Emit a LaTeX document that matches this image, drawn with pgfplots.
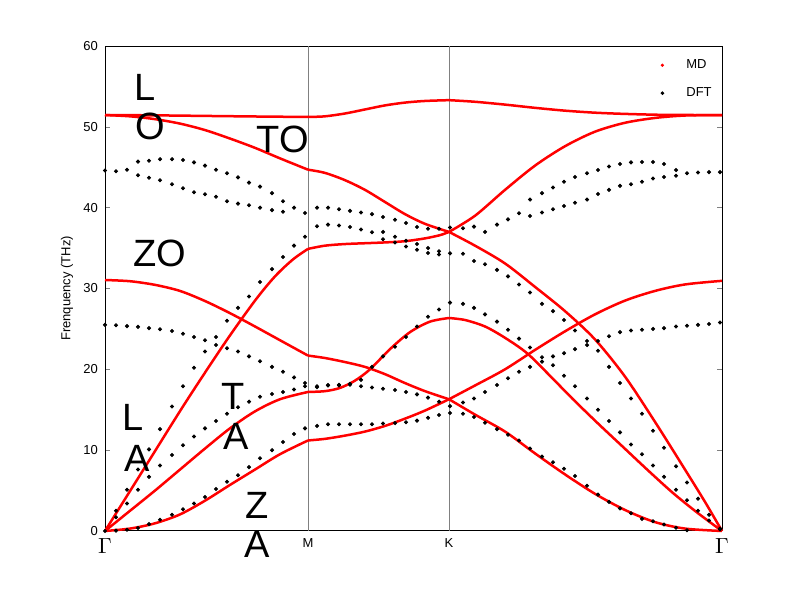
\documentclass[border=0pt]{standalone}
\usepackage{fontspec}
\setmainfont{Liberation Sans}
\usepackage{pgfplots}
\pgfplotsset{compat=1.18}
\begin{document}
\begin{tikzpicture}[x=1pt,y=1pt]
\useasboundingbox (-52.5,-34) rectangle (346.5,265.5);
\begin{axis}[
  at={(0,0)}, anchor=south west,
  scale only axis, width=308.5pt, height=242.5pt,
  xmin=0, xmax=617, ymin=0, ymax=60,
  clip=false,
  axis line style={line width=0.5pt},
  tick align=inside,
  major tick length=2.5pt,
  ytick={0,10,...,60},
  yticklabel style={font=\fontsize{6.5}{7}\selectfont},
  /pgf/number format/assume math mode=true,
  xtick={0,203,344,617},
  xticklabels={{\fontsize{11}{11}\selectfont$\Gamma$},{\fontsize{6.5}{7}\selectfont M},{\fontsize{6.5}{7}\selectfont K},{\fontsize{11}{11}\selectfont$\Gamma$}},
  xtick style={draw=none},
  extra x ticks={203,344},
  extra x tick labels={},
  extra x tick style={grid=major, major grid style={gray, line width=0.5pt}, tick style={draw=none}},
  ylabel={Frenquency (THz)},
  ylabel style={font=\fontsize{6.5}{7}\selectfont, at={(axis description cs:-0.0616,0.5)}, anchor=center},
  legend style={draw=none, fill=none, font=\fontsize{6.5}{7}\selectfont, at={(axis cs:547,59.4)}, anchor=north west, row sep=4pt, legend cell align=left},
]
% legend entries
\addlegendimage{legend image code/.code={\fill[red] (0pt,0pt) circle (0.6pt); \path[draw=none] (-2pt,0pt) -- (10pt,0pt);}}
\addlegendentry{MD}
\addlegendimage{legend image code/.code={\fill[black] (0pt,0pt) circle (0.7pt); \path[draw=none] (-2pt,0pt) -- (10pt,0pt);}}
\addlegendentry{DFT}

% ---------------- MD (red) ----------------
\pgfplotsset{md/.style={red, line width=1.25pt, smooth, tension=0.5, forget plot}}
% Gamma - M
\addplot[md] coordinates {(0,51.46)(50,51.42)(100,51.35)(150,51.28)(203,51.22)};
\addplot[md] coordinates {(0,51.46)(25,51.3)(50,50.95)(75,50.4)(100,49.6)(125,48.55)(150,47.4)(175,46.1)(203,44.7)};
\addplot[md] coordinates {(0,0)(40,7.9)(80,15.8)(120,23.3)(150,28.5)(170,31.5)(188,33.6)(203,34.9)};
\addplot[md] coordinates {(0,31.05)(25,30.9)(50,30.45)(75,29.7)(100,28.45)(125,26.95)(150,25.3)(175,23.6)(203,21.7)};
\addplot[md] coordinates {(0,0)(25,2.5)(50,5.0)(75,7.6)(100,10.2)(125,12.7)(150,14.8)(175,16.3)(203,17.2)};
\addplot[md] coordinates {(0,0)(25,0.3)(50,0.95)(75,2.05)(100,3.75)(125,5.7)(150,7.6)(175,9.5)(203,11.2)};
% M - K
\addplot[md] coordinates {(203,51.22)(220,51.3)(240,51.65)(260,52.15)(280,52.65)(300,53.0)(320,53.2)(344,53.3)};
\addplot[md] coordinates {(203,44.7)(220,44.3)(240,43.4)(260,42.2)(280,40.7)(300,39.2)(320,38.0)(344,37.0)};
\addplot[md] coordinates {(203,34.9)(220,35.3)(240,35.5)(260,35.6)(280,35.7)(300,35.85)(320,36.2)(335,36.6)(344,37.0)};
\addplot[md] coordinates {(203,21.7)(220,21.4)(240,20.9)(260,20.3)(280,19.4)(300,18.3)(320,17.3)(344,16.3)};
\addplot[md] coordinates {(203,17.2)(220,17.3)(235,17.7)(250,18.6)(265,20.0)(285,22.5)(305,24.6)(325,25.9)(344,26.35)};
\addplot[md] coordinates {(203,11.2)(220,11.4)(240,11.8)(260,12.3)(280,13.0)(300,13.9)(320,14.9)(344,16.3)};
% K - Gamma
\addplot[md] coordinates {(344,53.3)(370,53.1)(400,52.75)(430,52.35)(460,52.0)(490,51.75)(520,51.6)(560,51.48)(617,51.46)};
\addplot[md] coordinates {(344,37.0)(370,39.0)(400,42.2)(430,45.2)(460,47.6)(490,49.4)(520,50.5)(550,51.1)(580,51.4)(617,51.46)};
\addplot[md] coordinates {(344,37.0)(370,35.3)(400,33.1)(430,30.2)(460,27.2)(490,23.7)(520,19.1)(550,13.5)(580,7.6)(600,3.6)(617,0)};
\addplot[md] coordinates {(344,26.35)(360,26.1)(380,25.3)(400,23.9)(422,22.0)(445,19.2)(468,16.3)(493,13.3)(518,10.4)(543,7.5)(568,4.7)(593,2.2)(617,0)};
\addplot[md] coordinates {(344,16.3)(370,18.0)(400,20.0)(430,22.4)(460,24.7)(490,26.8)(520,28.5)(550,29.7)(580,30.5)(617,30.95)};
\addplot[md] coordinates {(344,16.3)(370,14.4)(400,12.3)(430,9.6)(460,7.0)(490,4.6)(520,2.6)(550,1.1)(580,0.3)(617,0)};

% ---------------- DFT (black dots) ----------------
\addplot[only marks, mark=*, mark size=0.8pt, black, forget plot] table[row sep=\\] {
x y\\
0 44.6\\ 11 44.5\\ 22 44.7\\ 33 45.7\\ 44 45.8\\ 55 46.0\\ 67 46.0\\ 78 45.9\\ 89 45.6\\ 100 45.2\\ 111 44.7\\ 122 44.25\\ 133 43.75\\ 144 43.1\\ 155 42.6\\ 167 41.8\\ 178 40.8\\ 189 40.0\\ 200 39.35\\
33 44.0\\ 44 43.7\\ 55 43.4\\ 67 42.9\\ 78 42.4\\ 89 41.9\\ 100 41.65\\ 111 41.35\\ 122 40.8\\ 133 40.5\\ 144 40.3\\ 155 40.0\\ 167 39.7\\ 178 39.5\\
0 0\\ 11 2.5\\ 22 5.1\\ 33 7.6\\ 44 10.1\\ 55 12.6\\ 67 15.4\\ 78 17.9\\ 89 20.2\\ 100 22.2\\ 111 24.0\\ 122 26.0\\ 133 27.6\\ 144 29.0\\ 155 30.8\\ 167 32.4\\ 178 33.9\\ 189 35.3\\ 200 36.4\\
11 1.7\\ 22 3.4\\ 33 5.1\\ 44 6.7\\ 55 8.1\\ 67 9.4\\ 78 10.6\\ 89 11.7\\ 100 12.7\\ 111 13.6\\ 122 14.5\\ 133 15.3\\ 144 16.0\\ 155 16.6\\ 167 16.95\\ 178 17.2\\ 189 17.5\\ 200 17.9\\
11 0.05\\ 22 0.15\\ 33 0.37\\ 44 0.85\\ 55 1.4\\ 67 2.0\\ 78 2.7\\ 89 3.4\\ 100 4.2\\ 111 5.2\\ 122 6.1\\ 133 6.9\\ 144 7.9\\ 155 9.0\\ 167 10.0\\ 178 11.0\\ 189 12.0\\ 200 12.7\\
0 25.5\\ 11 25.45\\ 22 25.35\\ 33 25.25\\ 44 25.1\\ 55 24.95\\ 67 24.75\\ 78 24.4\\ 89 24.0\\ 100 23.6\\ 111 23.0\\ 122 22.6\\ 133 22.2\\ 144 21.6\\ 155 21.0\\ 167 20.3\\ 178 19.7\\ 189 19.0\\ 200 18.3\\
212 40.0\\ 223 40.0\\ 234 39.8\\ 245 39.6\\ 256 39.4\\ 267 39.2\\ 278 38.85\\ 290 38.5\\ 301 38.1\\ 312 37.6\\ 323 37.4\\ 334 37.4\\ 345 37.55\\
212 37.7\\ 223 37.9\\ 234 37.8\\ 245 37.6\\ 256 37.3\\ 267 36.95\\ 278 37.0\\ 290 36.4\\ 301 35.9\\ 312 35.5\\ 323 35.0\\ 334 34.6\\ 345 34.35\\
278 36.1\\ 290 35.7\\ 301 35.2\\ 312 34.8\\ 323 34.4\\ 334 34.2\\
212 17.9\\ 223 18.05\\ 234 18.1\\ 245 18.2\\ 256 18.7\\ 267 20.3\\ 278 21.6\\ 290 22.8\\ 301 24.0\\ 312 25.3\\ 323 26.5\\ 334 27.4\\ 345 28.25\\
212 17.8\\ 223 18.0\\ 234 18.0\\ 245 18.1\\ 256 17.9\\ 267 17.75\\ 278 17.6\\ 290 17.45\\ 301 17.2\\ 312 16.9\\ 323 16.5\\ 334 16.0\\ 345 15.45\\
212 13.0\\ 223 13.2\\ 234 13.2\\ 245 13.2\\ 256 13.2\\ 267 13.2\\ 278 13.3\\ 290 13.35\\ 301 13.45\\ 312 13.65\\ 323 14.0\\ 334 14.35\\ 345 14.6\\
358 37.45\\ 369 37.65\\ 380 37.0\\ 392 37.9\\ 403 38.55\\ 414 39.3\\ 425 41.0\\ 437 41.8\\ 448 42.5\\ 459 43.2\\ 470 43.8\\ 482 44.25\\ 493 44.65\\ 504 45.1\\ 515 45.4\\ 526 45.6\\ 537 45.65\\ 548 45.65\\ 559 45.4\\ 571 44.65\\ 582 44.25\\ 593 44.35\\ 604 44.4\\ 615 44.4\\
425 38.97\\ 437 39.4\\ 448 39.8\\ 459 40.2\\ 470 40.6\\ 482 41.0\\ 493 41.7\\ 504 42.2\\ 515 42.7\\ 526 42.9\\ 537 43.2\\ 548 43.6\\ 559 43.8\\ 571 43.95\\
358 34.3\\ 369 33.4\\ 380 33.0\\ 392 32.3\\ 403 31.5\\ 414 30.5\\ 425 29.5\\ 437 28.1\\ 448 27.2\\ 459 26.1\\ 470 24.8\\ 482 23.5\\ 493 22.3\\ 504 20.3\\ 515 18.3\\ 526 16.4\\ 537 14.5\\ 548 12.4\\ 559 10.3\\ 571 8.0\\ 582 6.0\\ 593 4.0\\ 604 2.0\\ 615 0.3\\
358 28.1\\ 369 27.6\\ 380 26.8\\ 392 25.9\\ 403 24.9\\ 414 23.8\\ 425 22.7\\ 437 21.5\\ 448 20.5\\ 459 19.2\\ 470 17.9\\ 482 16.4\\ 493 15.0\\ 504 13.6\\ 515 12.2\\ 526 10.7\\ 537 9.5\\ 548 8.1\\ 559 6.7\\ 571 5.1\\ 582 3.8\\ 593 2.5\\ 604 1.3\\ 615 0.2\\
358 15.9\\ 369 16.4\\ 380 17.2\\ 392 18.06\\ 403 18.9\\ 414 19.7\\ 425 20.3\\ 437 20.95\\ 448 21.6\\ 459 22.0\\ 470 22.5\\ 482 23.0\\ 493 23.5\\ 504 24.1\\ 515 24.6\\ 526 24.8\\ 537 24.9\\ 548 25.0\\ 559 25.1\\ 571 25.3\\ 582 25.4\\ 593 25.5\\ 604 25.6\\ 615 25.8\\
358 14.5\\ 369 14.1\\ 380 13.4\\ 392 12.6\\ 403 11.9\\ 414 11.2\\ 425 10.2\\ 437 9.2\\ 448 8.5\\ 459 7.7\\ 470 6.8\\ 482 5.6\\ 493 4.5\\ 504 3.6\\ 515 2.8\\ 526 2.2\\ 537 1.5\\ 548 1.2\\ 559 0.8\\ 571 0.4\\ 582 0.1\\
};

% ---------------- annotations ----------------
\tikzset{lab/.style={font=\fontsize{19}{19}\selectfont, inner sep=0pt}}
\node[lab] at (axis cs:40,54.9) {L};
\node[lab] at (axis cs:45,50.0) {O};
\node[lab] at (axis cs:178,48.4) {TO};
\node[lab] at (axis cs:55,34.4) {ZO};
\node[lab] at (axis cs:28,14.0) {L};
\node[lab] at (axis cs:32,9.0) {A};
\node[lab] at (axis cs:128,16.7) {T};
\node[lab] at (axis cs:131,11.75) {A};
\node[lab] at (axis cs:152,3.2) {Z};
\node[lab] at (axis cs:152,-1.7) {A};
\end{axis}
\end{tikzpicture}
\end{document}
